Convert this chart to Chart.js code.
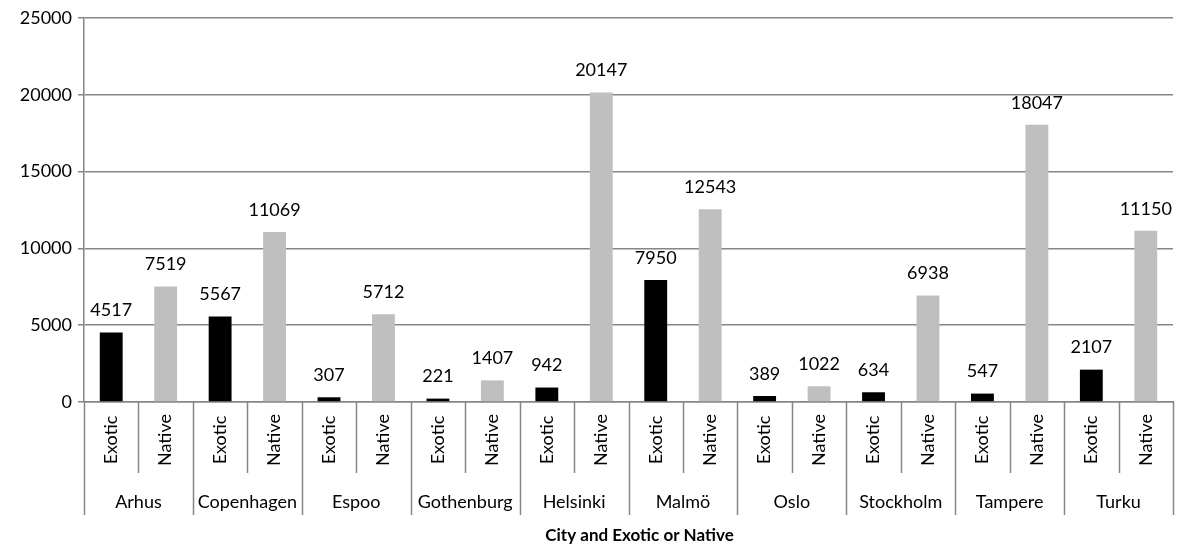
<!DOCTYPE html>
<html>
<head>
<meta charset="utf-8">
<script src="https://cdn.jsdelivr.net/npm/chart.js@4"></script>
<style>
    html, body { margin: 0; padding: 0; background: #fff; }
    #wrap { width: 1183px; height: 547px; }
</style>
</head>
<body>
<div id="wrap"><canvas id="speciesChart" width="1183" height="547"></canvas></div>
<script>
const cities = ['Arhus', 'Copenhagen', 'Espoo', 'Gothenburg', 'Helsinki', 'Malmö', 'Oslo', 'Stockholm', 'Tampere', 'Turku'];
const groups = ['Exotic', 'Native'];
const exoticCounts = [4517, 5567, 307, 221, 942, 7950, 389, 634, 547, 2107];
const nativeCounts = [7519, 11069, 5712, 1407, 20147, 12543, 1022, 6938, 18047, 11150];
const yTicks = [0, 5000, 10000, 15000, 20000, 25000];
const axisTitle = 'City and Exotic or Native';

const FONT = 'Lato, "Open Sans", sans-serif';
const GRID = '#868686';

// interleave exotic / native per city
const labels = [];
const values = [];
const colors = [];
cities.forEach((city, i) => {
    labels.push(city + ' ' + groups[0], city + ' ' + groups[1]);
    values.push(exoticCounts[i], nativeCounts[i]);
    colors.push('#000000', '#bfbfbf');
});

// value labels above each bar
const valueLabels = {
    id: 'valueLabels',
    afterDatasetsDraw(chart) {
        const ctx = chart.ctx;
        const meta = chart.getDatasetMeta(0);
        ctx.save();
        ctx.font = '18px ' + FONT;
        ctx.fillStyle = '#000';
        ctx.textAlign = 'center';
        ctx.textBaseline = 'bottom';
        meta.data.forEach((bar, i) => {
            ctx.fillText(String(values[i]), bar.x, bar.y - 13);
        });
        ctx.restore();
    }
};

// two-level category axis: group labels, city labels, separators, title
const groupedAxis = {
    id: 'groupedAxis',
    afterDraw(chart) {
        const ctx = chart.ctx;
        const xs = chart.scales.x;
        const area = chart.chartArea;
        const base = area.bottom;
        const step = xs.getPixelForValue(1) - xs.getPixelForValue(0);
        ctx.save();
        ctx.strokeStyle = GRID;
        ctx.lineWidth = 1.5;
        for (let i = 0; i <= labels.length; i++) {
            const x = Math.round(xs.getPixelForValue(i) - step / 2) + 0.5;
            const bottom = (i % 2 === 0) ? base + 113 : base + 71;
            ctx.beginPath();
            ctx.moveTo(x, base);
            ctx.lineTo(x, bottom);
            ctx.stroke();
        }
        ctx.fillStyle = '#000';
        ctx.font = '18px ' + FONT;
        ctx.textAlign = 'center';
        ctx.textBaseline = 'middle';
        labels.forEach((l, i) => {
            const x = xs.getPixelForValue(i);
            ctx.save();
            ctx.translate(x, base + 38);
            ctx.rotate(-Math.PI / 2);
            ctx.fillText(groups[i % 2], 0, 0);
            ctx.restore();
        });
        cities.forEach((city, i) => {
            const x = (xs.getPixelForValue(2 * i) + xs.getPixelForValue(2 * i + 1)) / 2;
            ctx.fillText(city, x, base + 100);
        });
        ctx.font = 'bold 17px ' + FONT;
        ctx.fillText(axisTitle, (area.left + area.right) / 2 + 11, base + 134);
        ctx.restore();
    }
};

new Chart(document.getElementById('speciesChart'), {
    type: 'bar',
    data: {
        labels: labels,
        datasets: [{
            data: values,
            backgroundColor: colors,
            barPercentage: 0.42,
            categoryPercentage: 1
        }]
    },
    options: {
        responsive: false,
        animation: false,
        layout: { padding: { top: 18, right: 10, bottom: 137, left: 0 } },
        plugins: {
            legend: { display: false },
            tooltip: { enabled: false }
        },
        scales: {
            x: {
                ticks: { display: false },
                grid: { display: false },
                border: { color: GRID, width: 1.5 }
            },
            y: {
                min: 0,
                max: 25000,
                afterFit(scale) { scale.width = 84; },
                afterBuildTicks(scale) { scale.ticks = yTicks.map(v => ({ value: v })); },
                ticks: {
                    color: '#000',
                    font: { family: FONT, size: 18 },
                    padding: 6,
                    callback: v => String(v)
                },
                grid: { color: GRID, lineWidth: 1.5, tickLength: 6 },
                border: { color: GRID, width: 1.5 }
            }
        }
    },
    plugins: [valueLabels, groupedAxis]
});
</script>
</body>
</html>
